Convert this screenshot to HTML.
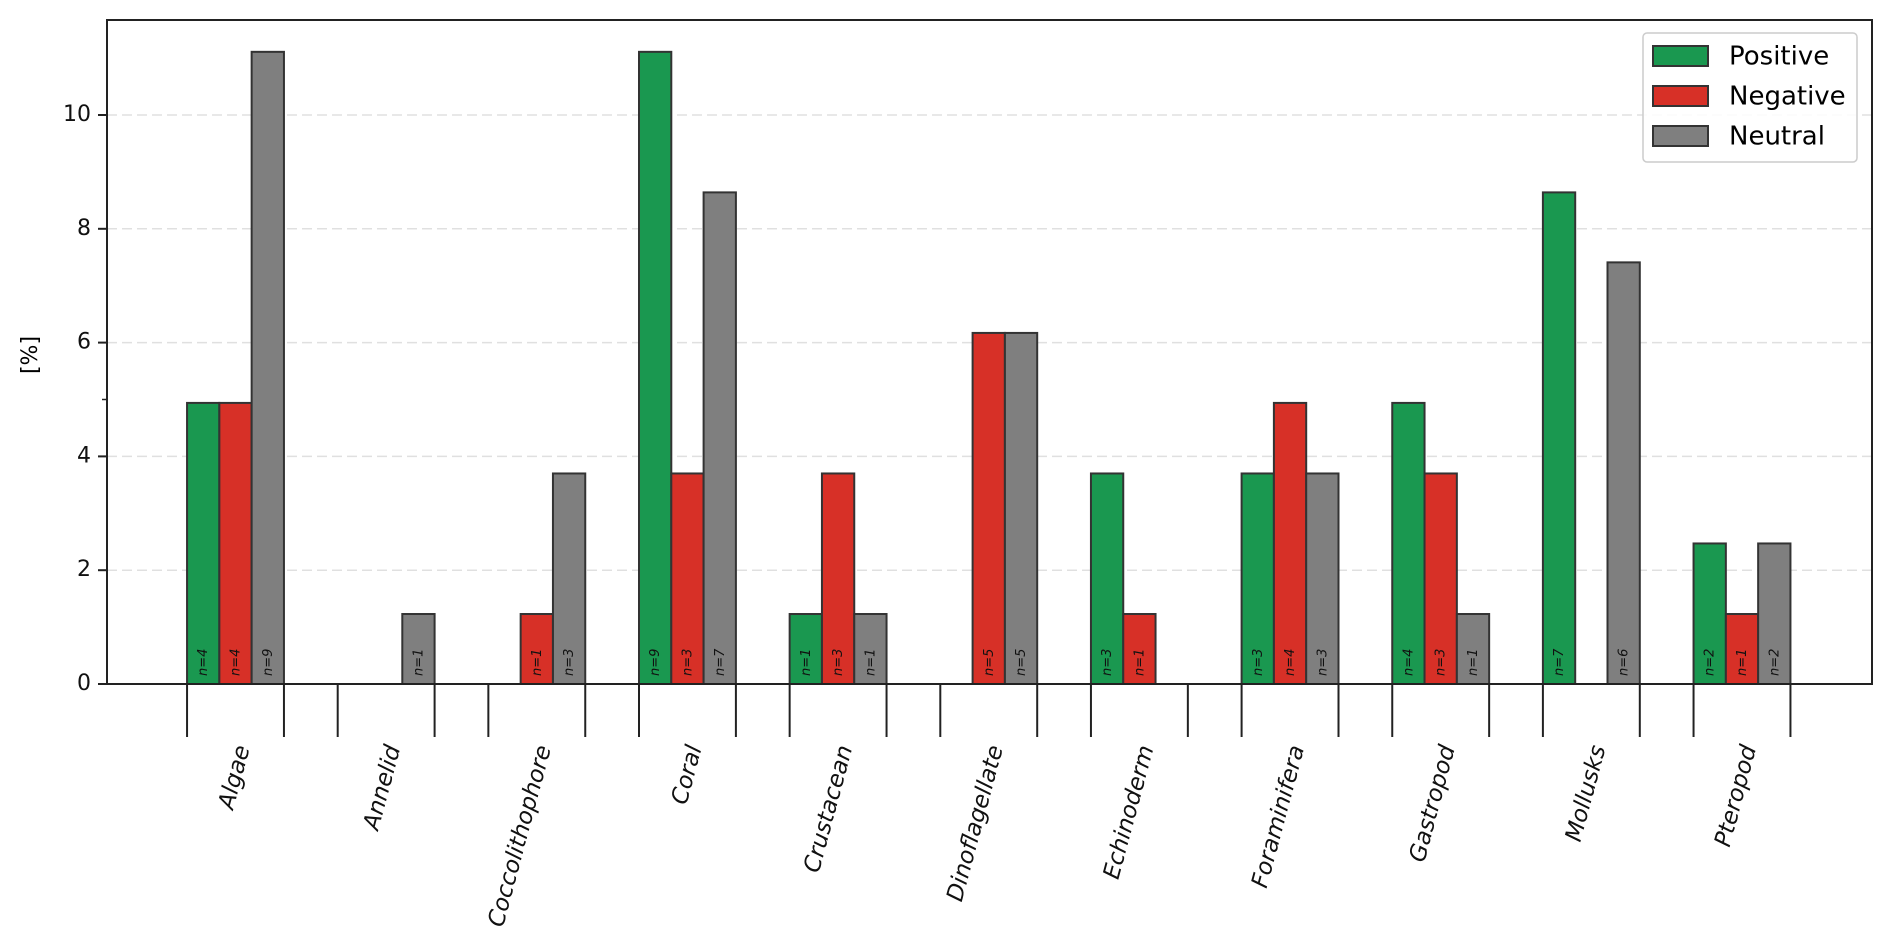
<!DOCTYPE html>
<html><head><meta charset="utf-8"><style>
html,body{margin:0;padding:0;background:#fff}
svg{display:block;font-family:"DejaVu Sans","Liberation Sans",sans-serif}
</style></head><body>
<svg id="chart" width="1892" height="933" viewBox="0 0 1892 933" xmlns="http://www.w3.org/2000/svg">
<g id="grid"></g>
<g id="bars"></g>
<g id="axes"></g>
<text x="31" y="355" font-size="22" text-anchor="middle" dominant-baseline="middle" transform="rotate(-90 31 355)">[%]</text>
<g>
<rect x="1643" y="33" width="214" height="129" rx="4" fill="#fff" fill-opacity="0.85" stroke="#ccc" stroke-width="1.5"/>
<rect x="1653" y="46" width="55" height="20" fill="#1a9850" stroke="#333" stroke-width="2"/>
<text x="1729" y="57" font-size="26" dominant-baseline="middle">Positive</text>
<rect x="1653" y="86" width="55" height="20" fill="#d73027" stroke="#333" stroke-width="2"/>
<text x="1729" y="97" font-size="26" dominant-baseline="middle">Negative</text>
<rect x="1653" y="126" width="55" height="20" fill="#7f7f7f" stroke="#333" stroke-width="2"/>
<text x="1729" y="137" font-size="26" dominant-baseline="middle">Neutral</text>
</g>
</svg>
<script>
const categories = ["Algae","Annelid","Coccolithophore","Coral","Crustacean","Dinoflagellate","Echinoderm","Foraminifera","Gastropod","Mollusks","Pteropod"];
const positiveN = [4,0,0,9,1,0,3,3,4,7,2];
const negativeN = [4,0,1,3,3,5,1,4,3,0,1];
const neutralN = [9,1,3,7,1,5,0,3,1,6,2];
const positivePct = [4.94,0,0,11.11,1.23,0,3.70,3.70,4.94,8.64,2.47];
const negativePct = [4.94,0,1.23,3.70,3.70,6.17,1.23,4.94,3.70,0,1.23];
const neutralPct = [11.11,1.23,3.70,8.64,1.23,6.17,0,3.70,1.23,7.41,2.47];
const yTicks = [0,2,4,6,8,10];
const yMinorTicks = [5];

const NS = "http://www.w3.org/2000/svg";
const L = 107, R = 1872, T = 20, B = 684;
const y0px = 684, pxPerUnit = 56.9;
const firstCenter = 235.5, step = 150.65, barW = 32.3;
const yScale = v => y0px - v * pxPerUnit;
const xCenter = i => firstCenter + i * step;
function mk(tag, attrs, parent) {
  const e = document.createElementNS(NS, tag);
  for (const k in attrs) e.setAttribute(k, attrs[k]);
  parent.appendChild(e);
  return e;
}
const grid = document.getElementById('grid');
const bars = document.getElementById('bars');
const axes = document.getElementById('axes');

yTicks.forEach(t => {
  if (t > 0) {
    const g = mk('line', {x1: L, x2: R, y1: yScale(t), y2: yScale(t), stroke: '#e0e0e0', 'stroke-width': 1.5, 'stroke-dasharray': '10,5'}, grid);
    
    
  }
  const tk = mk('line', {x1: L - 9, x2: L, y1: yScale(t), y2: yScale(t), stroke: '#222', 'stroke-width': 2}, axes);
  
  
  const lb = mk('text', {x: L - 16, y: yScale(t), 'font-size': 22, 'text-anchor': 'end', 'dominant-baseline': 'middle', fill: '#111'}, axes);
  lb.textContent = t;
  
  
});
yMinorTicks.forEach(t => {
  const tk = mk('line', {x1: L - 5, x2: L, y1: yScale(t), y2: yScale(t), stroke: '#222', 'stroke-width': 1.5}, axes);
  
  
});

const series = [
  {name: 'positive', pct: positivePct, n: positiveN, color: '#1a9850'},
  {name: 'negative', pct: negativePct, n: negativeN, color: '#d73027'},
  {name: 'neutral', pct: neutralPct, n: neutralN, color: '#7f7f7f'}
];
categories.forEach((c, i) => {
  const left = xCenter(i) - 1.5 * barW;
  series.forEach((s, j) => {
    const x = left + j * barW;
    const v = s.pct[i];
    if (v > 0) {
      const r = mk('rect', {x: x, y: yScale(v), width: barW, height: y0px - yScale(v), fill: s.color, stroke: '#333', 'stroke-width': 2}, bars);
      
      
    } else {
      const ln = mk('line', {x1: x, x2: x + barW, y1: y0px, y2: y0px, stroke: '#333', 'stroke-width': 2}, bars);
      
      
    }
    if (s.n[i] > 0) {
      const cx = x + barW / 2 + 4, cy = y0px - 8;
      const t = mk('text', {x: cx, y: cy, 'font-size': 13, 'font-style': 'italic', 'text-anchor': 'start', fill: '#111', transform: `rotate(-90 ${cx} ${cy})`}, bars);
      t.textContent = 'n=' + s.n[i];
      
      
    }
  });
  [left, left + 3 * barW].forEach(xx => {
    const tk = mk('line', {x1: xx, x2: xx, y1: y0px, y2: 737, stroke: '#222', 'stroke-width': 2}, axes);
    
    
  });
  const lx = xCenter(i) + 8, ly = 746;
  const lb = mk('text', {x: lx, y: ly, 'font-size': 23, 'font-style': 'italic', 'text-anchor': 'end', 'dominant-baseline': 'middle', fill: '#111', transform: `rotate(-75 ${lx} ${ly})`}, axes);
  lb.textContent = c;
  
  
});
const frame = mk('rect', {x: L, y: T, width: R - L, height: B - T, fill: 'none', stroke: '#222', 'stroke-width': 2}, axes);


</script>
</body></html>
